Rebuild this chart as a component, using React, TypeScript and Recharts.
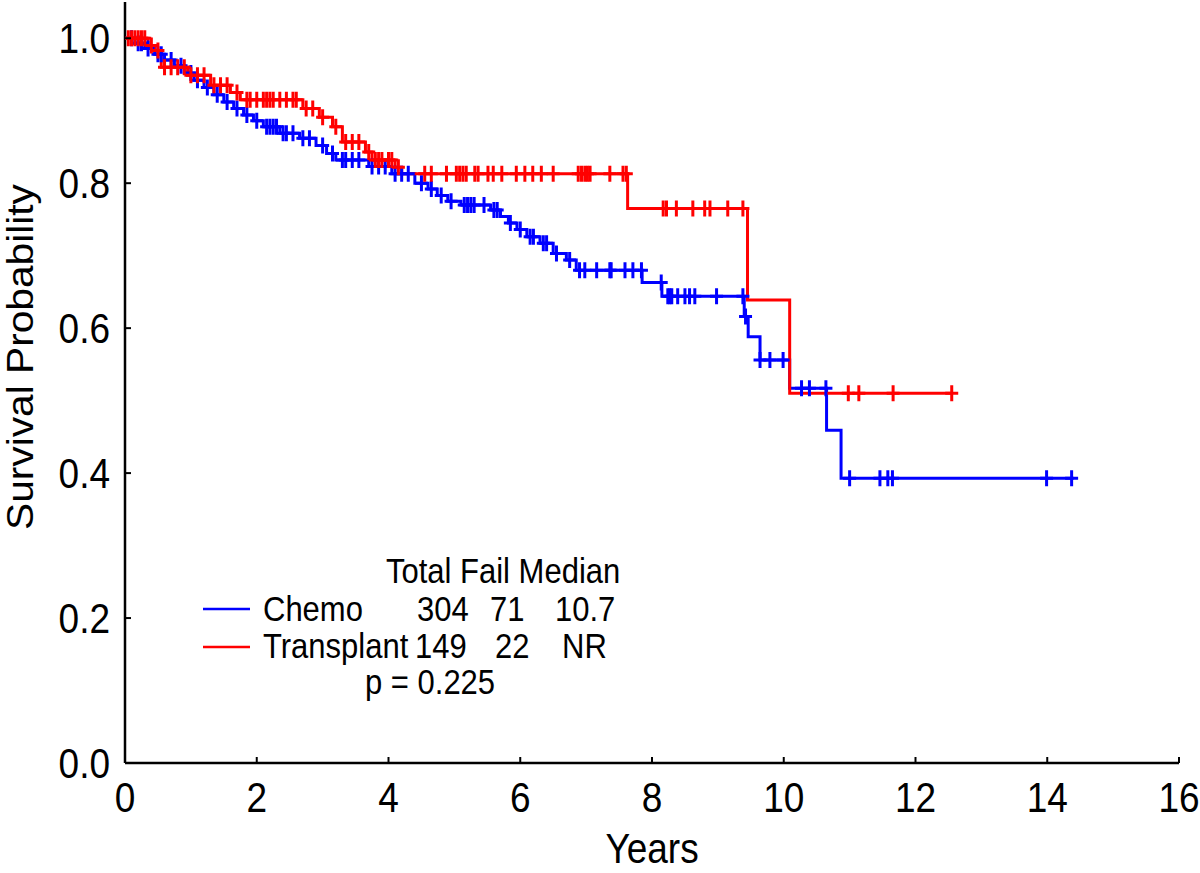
import React from "react";
import { ComposedChart, Line, Scatter, XAxis, YAxis } from "recharts";

// ---- Data ----
const xTicks = [0, 2, 4, 6, 8, 10, 12, 14, 16];
const yTicks = [0, 0.2, 0.4, 0.6, 0.8, 1.0];

// Chemo: Kaplan-Meier step times and survival after each step
const chemoTime = [0, 0.15, 0.3, 0.45, 0.6, 0.75, 0.9, 1.05, 1.2, 1.35, 1.5, 1.65, 1.8, 1.95, 2.1, 2.35, 2.65, 2.9, 3.06, 3.2, 3.7, 4.05, 4.4, 4.6, 4.74, 4.9, 5.1, 5.55, 5.7, 5.82, 5.95, 6.1, 6.3, 6.5, 6.7, 6.85, 7.85, 8.15, 9.4, 9.46, 9.64, 10.09, 10.65, 10.87, 14.4];
const chemoSurv = [1.0, 0.993, 0.986, 0.978, 0.97, 0.962, 0.952, 0.942, 0.932, 0.922, 0.912, 0.903, 0.894, 0.886, 0.878, 0.869, 0.862, 0.852, 0.841, 0.832, 0.823, 0.813, 0.8, 0.792, 0.783, 0.775, 0.77, 0.763, 0.754, 0.745, 0.736, 0.726, 0.717, 0.703, 0.694, 0.68, 0.663, 0.644, 0.616, 0.588, 0.556, 0.517, 0.459, 0.393, 0.393];
const chemoCensor = [0.1, 0.2, 0.25, 0.35, 0.5, 0.55, 0.7, 0.85, 1.0, 1.1, 1.25, 1.4, 1.55, 1.7, 1.85, 2.0, 2.15, 2.2, 2.25, 2.3, 2.4, 2.45, 2.55, 2.7, 2.8, 3.0, 3.15, 3.3, 3.35, 3.45, 3.55, 3.75, 3.85, 3.95, 4.1, 4.2, 4.3, 4.5, 4.65, 4.8, 4.95, 5.15, 5.2, 5.25, 5.3, 5.45, 5.6, 5.65, 5.85, 6.0, 6.15, 6.2, 6.35, 6.4, 6.55, 6.75, 6.9, 6.98, 7.16, 7.36, 7.38, 7.59, 7.71, 7.84, 8.14, 8.24, 8.27, 8.3, 8.39, 8.5, 8.57, 8.65, 8.98, 9.38, 9.42, 9.64, 9.79, 9.99, 10.27, 10.39, 10.64, 11.0, 11.46, 11.58, 11.65, 13.99, 14.37];

// Transplant
const transplantTime = [0, 0.35, 0.45, 0.55, 0.95, 1.3, 1.6, 1.75, 2.7, 2.95, 3.15, 3.3, 3.65, 3.75, 4.1, 4.2, 7.63, 9.45, 10.09, 12.56];
const transplantSurv = [1.0, 0.99, 0.983, 0.96, 0.949, 0.935, 0.925, 0.915, 0.903, 0.891, 0.878, 0.857, 0.843, 0.832, 0.822, 0.813, 0.765, 0.639, 0.51, 0.51];
const transplantCensor = [0.05, 0.1, 0.15, 0.2, 0.25, 0.3, 0.4, 0.5, 0.6, 0.7, 0.8, 0.9, 1.0, 1.1, 1.2, 1.35, 1.45, 1.55, 1.7, 1.85, 1.9, 2.0, 2.1, 2.15, 2.2, 2.25, 2.35, 2.45, 2.55, 2.6, 2.75, 2.85, 3.0, 3.2, 3.35, 3.45, 3.55, 3.7, 3.8, 3.85, 3.9, 4.0, 4.05, 4.15, 4.55, 4.65, 4.88, 5.03, 5.08, 5.13, 5.18, 5.31, 5.36, 5.51, 5.59, 5.72, 5.94, 6.07, 6.19, 6.32, 6.5, 6.88, 6.93, 6.98, 7.02, 7.06, 7.36, 7.56, 7.61, 8.17, 8.22, 8.37, 8.62, 8.8, 8.88, 9.15, 9.38, 10.98, 11.14, 11.66, 12.55];

const seriesNames = ["Chemo", "Transplant"];
const seriesTotal = ["304", "149"];
const seriesFail = ["71", "22"];
const seriesMedian = ["10.7", "NR"];
const pValueText = "p = 0.225";

// ---- helpers ----
const survAt = (times: number[], survs: number[], t: number) => {
  let v = survs[0];
  for (let i = 0; i < times.length; i++) if (times[i] <= t) v = survs[i];
  return v;
};
const chemoData = chemoTime.map((t, i) => ({ t, s: chemoSurv[i] }));
const transplantData = transplantTime.map((t, i) => ({ t, s: transplantSurv[i] }));
const chemoCensorData = chemoCensor.map((t) => ({ t, s: survAt(chemoTime, chemoSurv, t) }));
const transplantCensorData = transplantCensor.map((t) => ({ t, s: survAt(transplantTime, transplantSurv, t) }));

const FONT = "'Liberation Sans', Arial, Helvetica, sans-serif";
const SY = 1.13;

const ST = ({ x, y, anchor = "start", size, children }: any) => (
  <text
    transform={`translate(${x},${y}) scale(1,${SY})`}
    x={0}
    y={0}
    textAnchor={anchor}
    fontSize={size}
    fontFamily={FONT}
    fill="#000"
  >
    {children}
  </text>
);

const XTick = (props: any) => {
  const { x, y, payload } = props;
  return (
    <g>
      <line x1={x} x2={x} y1={y} y2={y - 6} stroke="#000" strokeWidth={2} />
      <ST x={x} y={y + 49} anchor="middle" size={37}>
        {String(payload.value)}
      </ST>
    </g>
  );
};

const YTick = (props: any) => {
  const { x, y, payload } = props;
  return (
    <g>
      <line x1={x} x2={x + 6} y1={y} y2={y} stroke="#000" strokeWidth={2} />
      <ST x={x - 15} y={y + 15} anchor="end" size={37}>
        {Number(payload.value).toFixed(1)}
      </ST>
    </g>
  );
};

const cross = (color: string) => (props: any) => {
  const { cx, cy } = props;
  return (
    <path
      d={`M${cx - 6.5},${cy}H${cx + 6.5}M${cx},${cy - 8}V${cy + 8}`}
      stroke={color}
      strokeWidth={3}
      fill="none"
    />
  );
};

const BLUE = "#0000ff";
const RED = "#ff0000";

export default function App() {
  return (
    <div style={{ position: "absolute", left: 0, top: 0, width: 1200, height: 873, background: "#fff" }}>
      <ComposedChart width={1200} height={873} margin={{ top: 2, right: 21, left: 0, bottom: 0 }}>
        <XAxis
          type="number"
          dataKey="t"
          domain={[0, 16]}
          ticks={xTicks}
          interval={0}
          height={110}
          tickSize={0}
          tickMargin={0}
          tickLine={false}
          axisLine={{ stroke: "#000", strokeWidth: 2.5 }}
          tick={<XTick />}
          allowDataOverflow
        />
        <YAxis
          type="number"
          dataKey="s"
          domain={[0, 1.05]}
          ticks={yTicks}
          interval={0}
          width={125}
          tickSize={0}
          tickMargin={0}
          tickLine={false}
          axisLine={{ stroke: "#000", strokeWidth: 2.5 }}
          tick={<YTick />}
          allowDataOverflow
        />
        <Line data={chemoData} dataKey="s" type="stepAfter" stroke={BLUE} strokeWidth={3} dot={false} activeDot={false} isAnimationActive={false} />
        <Scatter data={chemoCensorData} dataKey="s" shape={cross(BLUE)} isAnimationActive={false} />
        <Line data={transplantData} dataKey="s" type="stepAfter" stroke={RED} strokeWidth={3} dot={false} activeDot={false} isAnimationActive={false} />
        <Scatter data={transplantCensorData} dataKey="s" shape={cross(RED)} isAnimationActive={false} />
      </ComposedChart>
      <svg width={1200} height={873} style={{ position: "absolute", left: 0, top: 0, pointerEvents: "none" }}>
        <ST x={652} y={863} anchor="middle" size={37}>Years</ST>
        <text
          transform={`translate(33,357) rotate(-90) scale(${SY},1)`}
          textAnchor="middle"
          fontSize={36}
          fontFamily={FONT}
          fill="#000"
        >
          Survival Probability
        </text>
        <ST x={386} y={583} size={31}>Total Fail Median</ST>
        <line x1={203} x2={250} y1={609} y2={609} stroke={BLUE} strokeWidth={2.5} />
        <line x1={203} x2={250} y1={647} y2={647} stroke={RED} strokeWidth={2.5} />
        <ST x={263} y={621} size={31}>{seriesNames[0]}</ST>
        <ST x={417} y={621} size={31}>{seriesTotal[0]}</ST>
        <ST x={490} y={621} size={31}>{seriesFail[0]}</ST>
        <ST x={555} y={621} size={31}>{seriesMedian[0]}</ST>
        <ST x={263} y={658} size={31}>{seriesNames[1]}</ST>
        <ST x={415} y={658} size={31}>{seriesTotal[1]}</ST>
        <ST x={495} y={658} size={31}>{seriesFail[1]}</ST>
        <ST x={562} y={658} size={31}>{seriesMedian[1]}</ST>
        <ST x={365} y={694} size={31}>{pValueText}</ST>
      </svg>
    </div>
  );
}
